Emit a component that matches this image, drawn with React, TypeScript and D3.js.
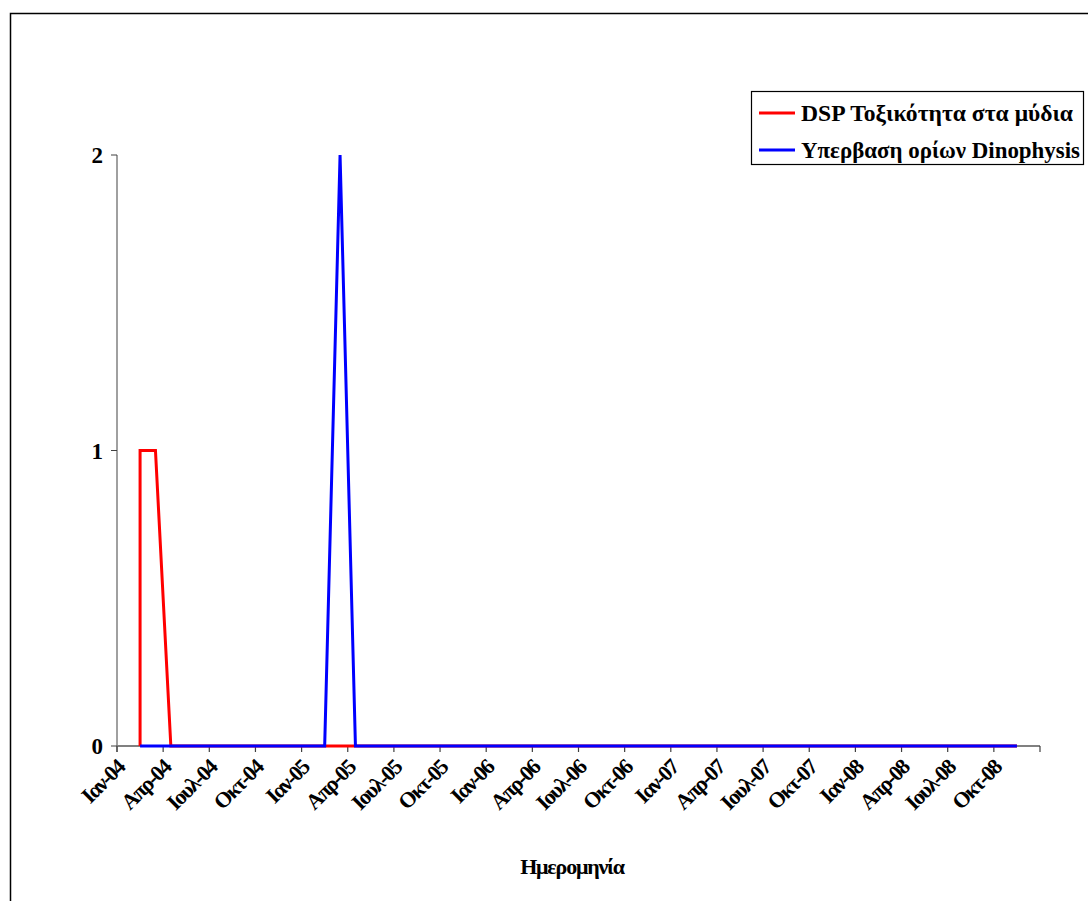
import React from "react";
import * as d3 from "d3";

// ---- Data ----
const seriesNames = ["DSP Τοξικότητα στα μύδια", "Υπερβαση ορίων Dinophysis"];
const seriesColors = ["#FF0000", "#0000FF"];

// sample months (one entry per sample; Feb-04 has two samples)
const sampleMonths = [
  "2004-02", "2004-02", "2004-03", "2004-04", "2004-05", "2004-06", "2004-07", "2004-08", "2004-09", "2004-10", "2004-11", "2004-12",
  "2005-01", "2005-02", "2005-03", "2005-04", "2005-05", "2005-06", "2005-07", "2005-08", "2005-09", "2005-10", "2005-11", "2005-12",
  "2006-01", "2006-02", "2006-03", "2006-04", "2006-05", "2006-06", "2006-07", "2006-08", "2006-09", "2006-10", "2006-11", "2006-12",
  "2007-01", "2007-02", "2007-03", "2007-04", "2007-05", "2007-06", "2007-07", "2007-08", "2007-09", "2007-10", "2007-11", "2007-12",
  "2008-01", "2008-02", "2008-03", "2008-04", "2008-05", "2008-06", "2008-07", "2008-08", "2008-09", "2008-10", "2008-11",
];

const dspValues = [
  0, 1, 1, 0, 0, 0, 0, 0, 0, 0, 0, 0,
  0, 0, 0, 0, 0, 0, 0, 0, 0, 0, 0, 0,
  0, 0, 0, 0, 0, 0, 0, 0, 0, 0, 0, 0,
  0, 0, 0, 0, 0, 0, 0, 0, 0, 0, 0, 0,
  0, 0, 0, 0, 0, 0, 0, 0, 0, 0, 0,
];

const dinophysisValues = [
  0, 0, 0, 0, 0, 0, 0, 0, 0, 0, 0, 0,
  0, 0, 2, 0, 0, 0, 0, 0, 0, 0, 0, 0,
  0, 0, 0, 0, 0, 0, 0, 0, 0, 0, 0, 0,
  0, 0, 0, 0, 0, 0, 0, 0, 0, 0, 0, 0,
  0, 0, 0, 0, 0, 0, 0, 0, 0, 0, 0,
];

// quarterly tick labels
const tickLabels = [
  "Ιαν-04", "Απρ-04", "Ιουλ-04", "Οκτ-04",
  "Ιαν-05", "Απρ-05", "Ιουλ-05", "Οκτ-05",
  "Ιαν-06", "Απρ-06", "Ιουλ-06", "Οκτ-06",
  "Ιαν-07", "Απρ-07", "Ιουλ-07", "Οκτ-07",
  "Ιαν-08", "Απρ-08", "Ιουλ-08", "Οκτ-08",
];
const yTicks = [0, 1, 2];
const axisStart = "2004-01";
const axisEndExclusive = "2009-01";
const xTitle = "Ημερομηνία";

const FONT = "'Times New Roman', 'Liberation Serif', serif";

export default function App() {
  const W = 1088;
  const H = 901;
  const left = 117;
  const right = 1040;
  const top = 155;
  const bottom = 746;

  const parse = d3.utcParse("%Y-%m");
  const fmt = d3.utcFormat("%Y-%m");
  const months = d3.utcMonth.range(parse(axisStart)!, parse(axisEndExclusive)!).map(fmt);

  const x = d3.scaleBand<string>().domain(months).range([left, right]).padding(0);
  const y = d3.scaleLinear().domain([0, 2]).range([bottom, top]);
  const xc = (m: string) => (x(m) as number) + x.bandwidth() / 2;

  const line = d3
    .line<[string, number]>()
    .x((d) => xc(d[0]))
    .y((d) => y(d[1]));

  const seriesData = [dspValues, dinophysisValues].map((vals) =>
    sampleMonths.map((m, i) => [m, vals[i]] as [string, number])
  );

  const tickMonths = months.filter((_, i) => i % 3 === 0);
  const tickXs = [...tickMonths.map((m) => x(m) as number), right];

  return (
    <svg
      width={W}
      height={H}
      style={{ position: "absolute", left: 0, top: 0, background: "#fff" }}
      fontFamily={FONT}
    >
      <rect x={0} y={0} width={W} height={H} fill="#fff" />
      <rect x={10.5} y={13.5} width={1200} height={1000} fill="none" stroke="#000" strokeWidth={1.5} />

      {/* y axis */}
      <line x1={left} x2={left} y1={top} y2={bottom + 6} stroke="#808080" strokeWidth={1.5} />
      {yTicks.map((t) => (
        <g key={t}>
          <line x1={left - 6} x2={left} y1={y(t)} y2={y(t)} stroke="#404040" strokeWidth={1} />
          <text x={103} y={y(t)} dy="0.36em" textAnchor="end" fontSize={23} fontWeight="bold">
            {t}
          </text>
        </g>
      ))}

      {/* x axis */}
      <line x1={left} x2={right} y1={bottom} y2={bottom} stroke="#808080" strokeWidth={2} />
      {tickXs.map((tx, i) => (
        <line key={i} x1={tx} x2={tx} y1={bottom} y2={bottom + 6} stroke="#404040" strokeWidth={1.2} />
      ))}
      {tickLabels.map((lab, i) => {
        const tx = tickXs[i];
        return (
          <text
            key={lab}
            transform={`translate(${tx - 2},${bottom + 12}) rotate(-45)`}
            textAnchor="end"
            dy="0.7em"
            fontSize={22}
            fontWeight="bold"
            letterSpacing={-1.6}
          >
            {lab}
          </text>
        );
      })}

      {/* series lines */}
      {seriesData.map((d, i) => (
        <path
          key={i}
          d={line(d) || ""}
          fill="none"
          stroke={seriesColors[i]}
          strokeWidth={3}
          strokeLinejoin="miter"
        />
      ))}

      {/* x title */}
      <text x={572} y={874} textAnchor="middle" fontSize={22} fontWeight="bold" letterSpacing={-1.2}>
        {xTitle}
      </text>

      {/* legend */}
      <rect x={751.5} y={91.5} width={332} height={73} fill="#fff" stroke="#000" strokeWidth={1.2} />
      {seriesNames.map((name, i) => {
        const ly = 113 + i * 37;
        return (
          <g key={name}>
            <line x1={759} x2={795} y1={ly} y2={ly} stroke={seriesColors[i]} strokeWidth={3} />
            <text
              x={801}
              y={ly}
              dy="0.35em"
              fontSize={23}
              fontWeight="bold"
              textLength={i === 0 ? 272 : 279}
              lengthAdjust="spacingAndGlyphs"
            >
              {name}
            </text>
          </g>
        );
      })}
    </svg>
  );
}
